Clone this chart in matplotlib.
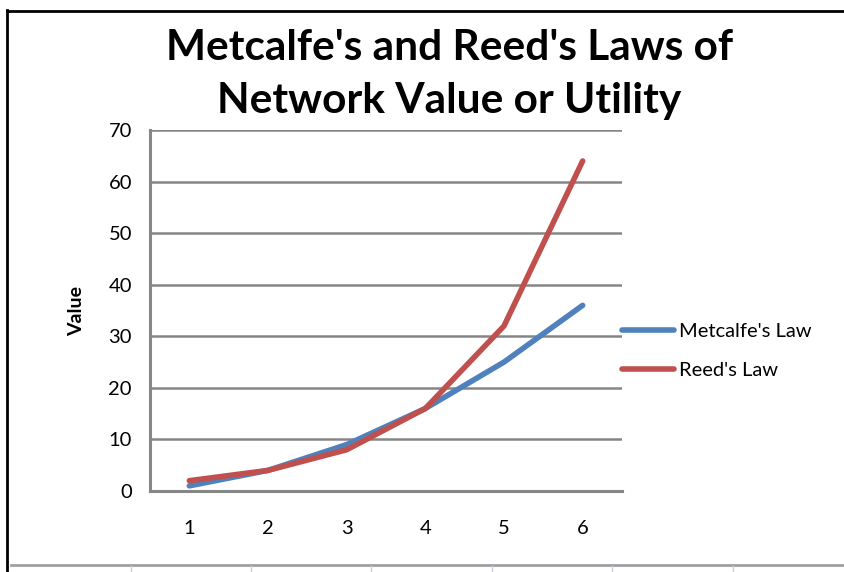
import matplotlib.pyplot as plt
from matplotlib.lines import Line2D

# === Data ===
nodes = [1, 2, 3, 4, 5, 6]
metcalfe = [1, 4, 9, 16, 25, 36]
reed = [2, 4, 8, 16, 32, 64]
y_ticks = [0, 10, 20, 30, 40, 50, 60, 70]

BLUE = "#4F81BD"
RED = "#C0504D"
GRID = "#868686"

plt.rcParams["font.family"] = ["Lato", "DejaVu Sans"]

W, H = 844, 572
fig = plt.figure(figsize=(W / 100, H / 100), dpi=100)

# === Sheet frame (spreadsheet border lines) ===
def fx(px):
    return px / W

def fy(py):
    return 1 - py / H

fig.add_artist(Line2D([fx(7), fx(7)], [fy(10), fy(572)], color="black", lw=2))
fig.add_artist(Line2D([fx(7), fx(844)], [fy(11), fy(11)], color="black", lw=2))
fig.add_artist(Line2D([fx(11), fx(844)], [fy(565), fy(565)], color="#A0A0A0", lw=2))
for tx in [131, 251, 371, 492, 612, 733]:
    fig.add_artist(Line2D([fx(tx), fx(tx)], [fy(566), fy(572)], color="#C8D0DC", lw=1))

# === Axes ===
ax = fig.add_axes([fx(150), fy(491), fx(622) - fx(150), fy(130) - fy(491)])
ax.set_xlim(0.5, 6.5)
ax.set_ylim(0, 70)

ax.plot(nodes, metcalfe, color=BLUE, lw=4.0, solid_capstyle="round", label="Metcalfe's Law")
ax.plot(nodes, reed, color=RED, lw=4.0, solid_capstyle="round", label="Reed's Law")

ax.set_yticks(y_ticks)
ax.set_xticks(nodes)
ax.yaxis.grid(True, color=GRID, lw=1.8)
ax.set_axisbelow(True)
ax.tick_params(axis="both", length=0, labelsize=14.5, colors="black")
ax.tick_params(axis="y", pad=13)
ax.tick_params(axis="x", pad=21)

for side in ["top", "right"]:
    ax.spines[side].set_visible(False)
for side in ["left", "bottom"]:
    ax.spines[side].set_color(GRID)
    ax.spines[side].set_linewidth(2.2)

ax.set_ylabel("Value", fontsize=14, fontweight="bold", labelpad=17)

fig.text(0.532, fy(48), "Metcalfe's and Reed's Laws of", ha="center", va="center",
         fontsize=30.5, fontweight="bold")
fig.text(0.532, fy(101), "Network Value or Utility", ha="center", va="center",
         fontsize=30.5, fontweight="bold")

leg = fig.legend(loc="center left", bbox_to_anchor=(fx(614), fy(351)), frameon=False,
                 borderaxespad=0, fontsize=14.5, handlelength=2.6, handletextpad=0.25,
                 labelspacing=1.05)

plt.savefig("out.png", dpi=100)
